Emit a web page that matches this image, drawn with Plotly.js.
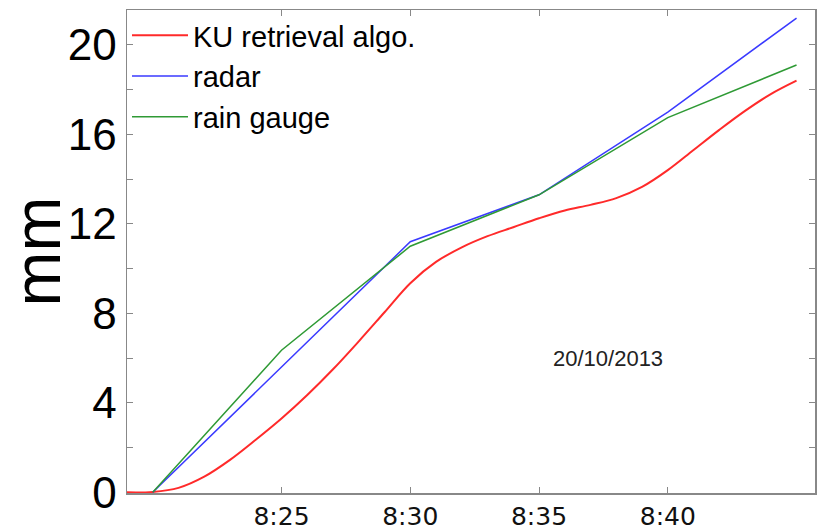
<!DOCTYPE html>
<html>
<head>
<meta charset="utf-8">
<script src="https://cdn.plot.ly/plotly-3.0.1.min.js"></script>
<style>html,body{margin:0;padding:0;background:#fff;}#chart{width:821px;height:530px;}</style>
</head>
<body>
<div id="chart"></div>
<script>
// Data (cumulative rain, mm)
const day = "2013-10-20 ";
const kuTimes = ["08:19","08:20","08:21","08:22","08:23","08:24","08:25","08:26","08:27","08:28","08:29","08:30","08:31","08:32","08:33","08:34","08:35","08:36","08:37","08:38","08:39","08:40","08:41","08:42","08:43","08:44","08:45"];
const kuValues = [0,0.02,0.2,0.7,1.45,2.35,3.3,4.35,5.5,6.75,8.05,9.35,10.3,10.95,11.45,11.85,12.25,12.6,12.85,13.15,13.65,14.4,15.3,16.2,17.05,17.8,18.4];
const radarTimes = ["08:20","08:25","08:30","08:35","08:40","08:45"];
const radarValues = [0,5.6,11.2,13.3,17.0,21.2];
const gaugeTimes = ["08:20","08:25","08:30","08:35","08:40","08:45"];
const gaugeValues = [0,6.35,11.0,13.3,16.75,19.1];
const xTickTimes = ["08:25","08:30","08:35","08:40"];
const xTickLabels = ["8:25","8:30","8:35","8:40"];
const yTickVals = [0,2,4,6,8,10,12,14,16,18,20];
const yTickLabels = ["0","","4","","8","","12","","16","","20"];
const dateLabel = "20/10/2013";

const toX = a => a.map(t => day + t);

const traces = [
  {x: toX(kuTimes), y: kuValues, name: "KU retrieval algo.", mode: "lines",
   line: {color: "#ff2a2a", width: 2, shape: "spline", smoothing: 1}},
  {x: toX(radarTimes), y: radarValues, name: "radar", mode: "lines",
   line: {color: "#3a3aff", width: 1.5}},
  {x: toX(gaugeTimes), y: gaugeValues, name: "rain gauge", mode: "lines",
   line: {color: "#2f9a35", width: 1.5}}
];

const layout = {
  width: 821, height: 530,
  margin: {l: 127, r: 6, t: 10, b: 37},
  paper_bgcolor: "#fff", plot_bgcolor: "#fff",
  showlegend: true,
  legend: {x: 0.0, y: 1.0, xanchor: "left", yanchor: "top",
    bgcolor: "rgba(0,0,0,0)", borderwidth: 0, itemwidth: 56,
    font: {family: "Liberation Sans, Arial, sans-serif", size: 29, color: "#000"}},
  xaxis: {
    type: "date",
    range: [day + "08:19:00", day + "08:45:43"],
    tickvals: toX(xTickTimes), ticktext: xTickLabels,
    ticks: "inside", ticklen: 6, tickcolor: "#888", tickwidth: 1,
    showline: true, linecolor: "#888", linewidth: 1.5, mirror: "ticks",
    showgrid: false, zeroline: false, layer: "below traces",
    tickfont: {family: "DejaVu Sans, sans-serif", size: 25, color: "#111"}
  },
  yaxis: {
    range: [-0.03, 21.56],
    tickvals: yTickVals, ticktext: yTickLabels,
    ticks: "inside", ticklen: 6, tickcolor: "#888", tickwidth: 1,
    showline: true, linecolor: "#888", linewidth: 1.5, mirror: "ticks",
    showgrid: false, zeroline: false, layer: "below traces",
    tickfont: {family: "Liberation Sans, Arial, sans-serif", size: 44, color: "#000"},
    title: {text: "mm", font: {family: "Liberation Sans, Arial, sans-serif", size: 66, color: "#000"}, standoff: 4}
  },
  annotations: [{
    text: dateLabel, xref: "x", yref: "y",
    x: day + "08:37:40", y: 6.0, showarrow: false,
    font: {family: "Liberation Sans, Arial, sans-serif", size: 22, color: "#222"}
  }]
};

Plotly.newPlot("chart", traces, layout, {displayModeBar: false, staticPlot: true});
</script>
</body>
</html>
